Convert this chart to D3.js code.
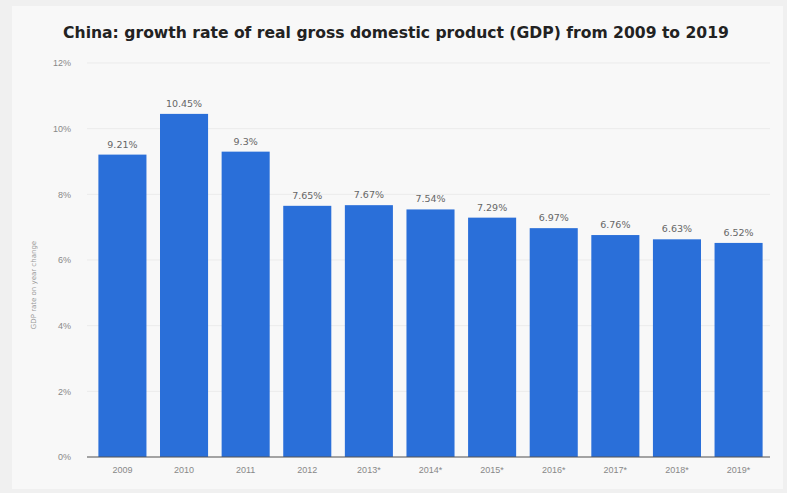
<!DOCTYPE html>
<html>
<head>
<meta charset="utf-8">
<script src="https://cdn.jsdelivr.net/npm/d3@7"></script>
<style>
	body { margin: 0; background: #f3f3f3; }
	svg { display: block; font-family: "DejaVu Sans", sans-serif; }
</style>
</head>
<body>
<div id="chart"></div>
<script>
const years = ["2009", "2010", "2011", "2012", "2013*", "2014*", "2015*", "2016*", "2017*", "2018*", "2019*"];
const growth = [9.21, 10.45, 9.3, 7.65, 7.67, 7.54, 7.29, 6.97, 6.76, 6.63, 6.52];
const valueLabels = ["9.21%", "10.45%", "9.3%", "7.65%", "7.67%", "7.54%", "7.29%", "6.97%", "6.76%", "6.63%", "6.52%"];
const yTicks = [0, 2, 4, 6, 8, 10, 12];

const width = 787, height = 493;
const margin = {top: 63, right: 17, bottom: 36, left: 91};

const svg = d3.select("#chart").append("svg")
	.attr("width", width)
	.attr("height", height);

// outer frame + inner panel
svg.append("rect").attr("width", width).attr("height", height).attr("fill", "#f0f0f0");
svg.append("rect")
	.attr("x", 12).attr("y", 6)
	.attr("width", width - 16).attr("height", height - 10)
	.attr("fill", "#f8f8f8");

svg.append("text")
	.attr("x", 396).attr("y", 38)
	.attr("text-anchor", "middle")
	.style("font-size", "15.6px")
	.style("font-weight", "bold")
	.style("fill", "#222")
	.text("China: growth rate of real gross domestic product (GDP) from 2009 to 2019");

const x = d3.scaleBand()
	.domain(years)
	.range([margin.left, width - margin.right])
	.paddingInner(0.22)
	.paddingOuter(0.12);

const y = d3.scaleLinear()
	.domain([0, 12])
	.range([height - margin.bottom, margin.top]);

// grid
svg.append("g")
	.selectAll("line")
	.data(yTicks)
	.join("line")
	.attr("x1", margin.left - 4)
	.attr("x2", width - margin.right)
	.attr("y1", d => y(d))
	.attr("y2", d => y(d))
	.attr("stroke", "#ebebeb");

// y axis
const yAxis = svg.append("g")
	.attr("transform", `translate(${margin.left - 17},0)`)
	.call(d3.axisLeft(y).tickValues(yTicks).tickFormat(d => d + "%").tickSize(0));
yAxis.select(".domain").remove();
yAxis.selectAll("text")
	.style("font-size", "9px")
	.style("fill", "#888");

svg.append("text")
	.attr("transform", `translate(36,${(y(0) + y(12)) / 2 + 25}) rotate(-90)`)
	.attr("text-anchor", "middle")
	.style("font-size", "7px")
	.style("fill", "#999")
	.text("GDP rate on year change");

// bars
svg.append("g")
	.selectAll("rect")
	.data(growth)
	.join("rect")
	.attr("x", (d, i) => x(years[i]))
	.attr("y", d => y(d))
	.attr("width", x.bandwidth())
	.attr("height", d => y(0) - y(d))
	.attr("fill", "#2a6fd9");

svg.append("g")
	.selectAll("text")
	.data(growth)
	.join("text")
	.attr("x", (d, i) => x(years[i]) + x.bandwidth() / 2)
	.attr("y", d => y(d) - 7)
	.attr("text-anchor", "middle")
	.style("font-size", "9.5px")
	.style("fill", "#666")
	.text((d, i) => valueLabels[i]);

// x axis
const xAxis = svg.append("g")
	.attr("transform", `translate(0,${y(0)})`)
	.call(d3.axisBottom(x).tickSize(0).tickPadding(10));
xAxis.select(".domain")
	.attr("stroke", "#555")
	.attr("d", `M${margin.left - 4},0H${width - margin.right}`);
xAxis.selectAll("text")
	.style("font-size", "9px")
	.style("fill", "#888");
</script>
</body>
</html>
